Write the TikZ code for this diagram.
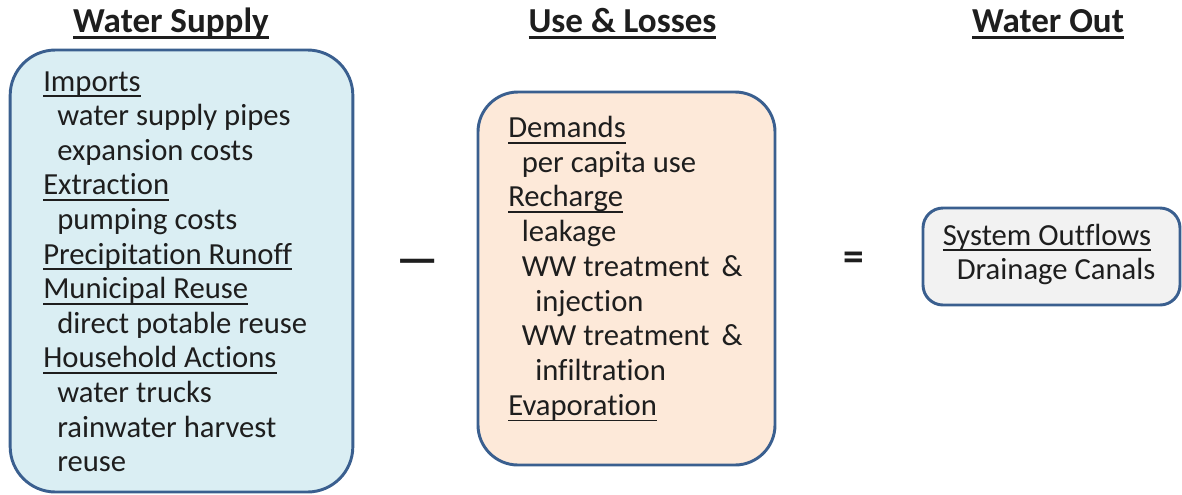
\documentclass[tikz,border=0pt]{standalone}
\usepackage{fontspec}
\setmainfont{Carlito}[Ligatures={NoCommon,NoContextual}]

\definecolor{supplyfill}{HTML}{DAEEF3}
\definecolor{lossfill}{HTML}{FDE9D9}
\definecolor{outfill}{HTML}{F2F2F2}
\definecolor{edgeblue}{HTML}{3A5F8F}
\definecolor{inktext}{HTML}{1E1E1E}

% underline at a fixed depth, so it runs through the descenders
\newcommand{\undl}[1]{\setbox0=\hbox{#1}\rlap{\rule[-0.2em]{\wd0}{0.055em}}\box0}
\newcommand{\undlhead}[1]{\setbox0=\hbox{#1}\rlap{\rule[-0.2em]{\wd0}{0.09em}}\box0}

\tikzset{
  panel/.style={draw=edgeblue, line width=2.2pt},
  head/.style={anchor=base, inner sep=0pt, text=inktext, font=\fontsize{26.3}{30}\selectfont\bfseries},
  item/.style={anchor=base west, inner sep=0pt, text=inktext, font=\fontsize{23}{26}\selectfont},
  sign/.style={anchor=base, inner sep=0pt, text=inktext},
}

\begin{document}
\begin{tikzpicture}[x=0.75pt,y=0.75pt,yscale=-1,xscale=1]
\path[use as bounding box] (0,0) rectangle (1182,494);

%Shape: Rounded Rect [supply]
\node[panel, fill=supplyfill, rounded corners=34pt, minimum width=257pt, minimum height=331.5pt] (supply) at (181.5,271) {};
%Shape: Rounded Rect [losses]
\node[panel, fill=lossfill, rounded corners=30pt, minimum width=222.75pt, minimum height=279.75pt] (losses) at (626.5,278.5) {};
%Shape: Rounded Rect [outflow]
\node[panel, fill=outfill, rounded corners=15pt, minimum width=192.75pt, minimum height=72.75pt] (outflow) at (1051.5,256.5) {};

% Text Node
\node[head] (hsupply) at (171,32) {\undlhead{Water Supply}};
% Text Node
\node[head] (hlosses) at (622.5,32) {\undlhead{Use \& Losses}};
% Text Node
\node[head] (hout) at (1048,32) {\undlhead{Water Out}};

% Text Node
\node[item] (imports) at (43,91) {\undl{Imports}};
% Text Node
\node[item] (pipes) at (57,125.6) {water supply pipes};
% Text Node
\node[item] (expansion) at (57,160.2) {expansion costs};
% Text Node
\node[item] (extraction) at (43,194.8) {\undl{Extraction}};
% Text Node
\node[item] (pumping) at (57,229.4) {pumping costs};
% Text Node
\node[item] (runoff) at (43,264) {\undl{Precipitation Runoff}};
% Text Node
\node[item] (municipal) at (43,298.6) {\undl{Municipal Reuse}};
% Text Node
\node[item] (potable) at (57,333.2) {direct potable reuse};
% Text Node
\node[item] (household) at (43,367.8) {\undl{Household Actions}};
% Text Node
\node[item] (trucks) at (57,402.4) {water trucks};
% Text Node
\node[item] (harvest) at (57,437) {rainwater harvest};
% Text Node
\node[item] (hhreuse) at (57,471.6) {reuse};

% Text Node
\node[item] (demands) at (508,137.5) {\undl{Demands}};
% Text Node
\node[item] (percapita) at (521.5,172.2) {per capita use};
% Text Node
\node[item] (recharge) at (508,206.9) {\undl{Recharge}};
% Text Node
\node[item] (leakage) at (521.5,241.6) {leakage};
% Text Node
\node[item] (wwone) at (521.5,276.3) {WW treatment \,\&};
% Text Node
\node[item] (injection) at (535,311) {injection};
% Text Node
\node[item] (wwtwo) at (521.5,345.7) {WW treatment \,\&};
% Text Node
\node[item] (infiltration) at (535,380.4) {infiltration};
% Text Node
\node[item] (evaporation) at (508,415.1) {\undl{Evaporation}};

% Text Node
\node[item] (sysout) at (942.5,245) {\undl{System Outflows}};
% Text Node
\node[item] (drainage) at (956.5,279.5) {Drainage Canals};

% Text Node
\node[sign, font=\fontsize{35}{40}\selectfont\bfseries] (minus) at (417.5,274) {—};
% Text Node
\node[sign, font=\fontsize{31}{36}\selectfont\bfseries] (equals) at (853.5,270.5) {=};

\end{tikzpicture}
\end{document}
